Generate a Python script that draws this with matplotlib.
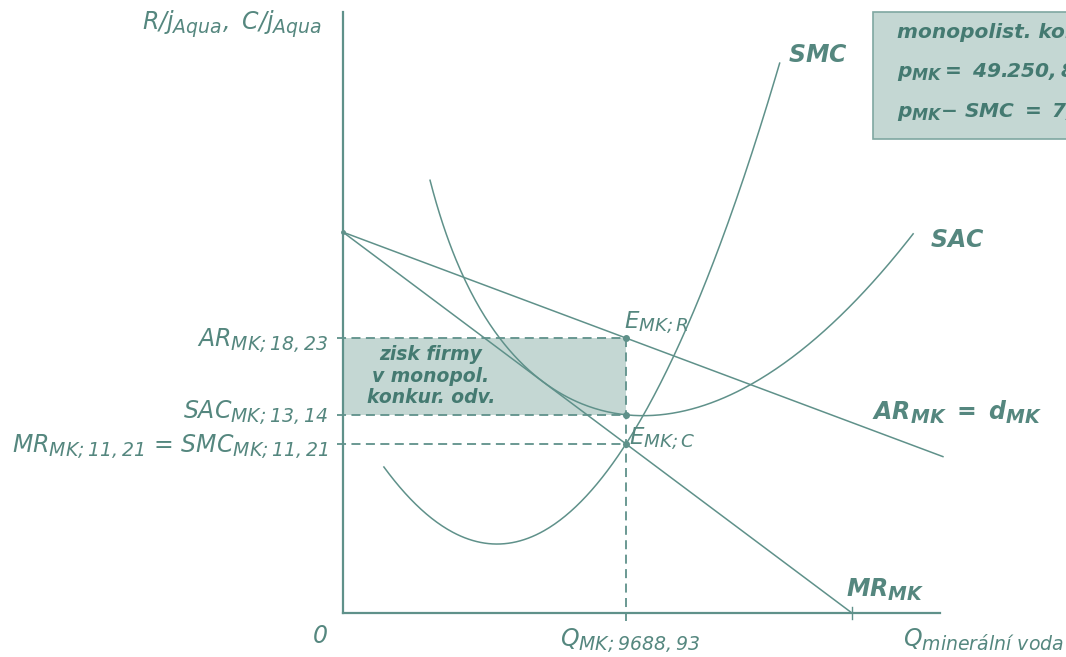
import matplotlib
matplotlib.use("Agg")
import numpy as np
import matplotlib.pyplot as plt
import matplotlib._mathtext as mathtext_internal

# --- data: monopolistic competition (mineral water firm) ---
Q_MK = 9688.93
AR_MK = 18.23
SAC_MK = 13.14
SMC_MK = 11.21
PROFIT_TXT = "49.250,80"
MARKUP_TXT = "7,02"

# demand AR = d: P = a - b*Q ; MR = a - 2b*Q
DEM_A = 25.25
DEM_B = (DEM_A - AR_MK) / Q_MK

# total cost TC = F + c1*Q - c2*Q^2 + c3*Q^3
TC_F = 56600.0
TC_C1 = 14.04
TC_C2 = 1.7955e-3
TC_C3 = 1.135e-7

# plotted ranges of Q
SMC_RANGE = (1400, 14950)
SAC_RANGE = (2980, 19520)
DEM_RANGE = (0, 20540)

# --- layout: pixel calibration of the drawing ---
W, H = 1066, 657
X0, Y0 = 343, 613          # origin in pixels
QPX, PPX = 34.237, 0.0663  # units per pixel

TEAL = "#5f918a"
TEXT = "#55877f"
DARK = "#447a71"
FILL = "#c4d7d3"

plt.rcParams["mathtext.fontset"] = "custom"
plt.rcParams["mathtext.it"] = "DejaVu Sans:italic"
plt.rcParams["mathtext.rm"] = "DejaVu Sans:italic"
plt.rcParams["mathtext.bf"] = "DejaVu Sans:italic:bold"
# subscripts in the reference are a bit larger than mathtext's default
mathtext_internal.SHRINK_FACTOR = 0.8


def px(x, y):
    return (x - X0) * QPX, (Y0 - y) * PPX


def smc(q):
    return TC_C1 - 2 * TC_C2 * q + 3 * TC_C3 * q ** 2


def sac(q):
    return TC_F / q + TC_C1 - TC_C2 * q + TC_C3 * q ** 2


fig = plt.figure(figsize=(W / 100, H / 100), dpi=100)
ax = fig.add_axes([0, 0, 1, 1])
ax.set_xlim(-X0 * QPX, (W - X0) * QPX)
ax.set_ylim(-(H - Y0) * PPX, Y0 * PPX)
ax.axis("off")

# axes
ax.plot([0, 0], [0, px(0, 12)[1]], color=TEAL, lw=1.6)
ax.plot([0, px(940, 0)[0]], [0, 0], color=TEAL, lw=1.6)

# profit rectangle
ax.fill_between([0, Q_MK], SAC_MK, AR_MK, color=FILL, lw=0)

# dashed guides
for v in (AR_MK, SAC_MK, SMC_MK):
    ax.plot([px(337, 0)[0], Q_MK], [v, v], color=TEAL, lw=1.3, ls=(0, (5, 3)))
ax.plot([Q_MK, Q_MK], [AR_MK, px(0, 621)[1]], color=TEAL, lw=1.3, ls=(0, (5, 3)))

# curves
q = np.linspace(*DEM_RANGE, 200)
ax.plot(q, DEM_A - DEM_B * q, color=TEAL, lw=1.1)
q_mr0 = DEM_A / (2 * DEM_B)
q = np.linspace(0, q_mr0, 200)
ax.plot(q, DEM_A - 2 * DEM_B * q, color=TEAL, lw=1.1)
ax.plot([q_mr0, q_mr0], [px(0, 607)[1], px(0, 619)[1]], color=TEAL, lw=1.0)

q = np.linspace(*SMC_RANGE, 300)
ax.plot(q, smc(q), color=TEAL, lw=1.1)
q = np.linspace(*SAC_RANGE, 300)
ax.plot(q, sac(q), color=TEAL, lw=1.1)

ax.scatter([Q_MK] * 3, [AR_MK, SAC_MK, SMC_MK], s=16, color=TEAL, zorder=5)
ax.plot(0, DEM_A, marker="o", ms=2.5, color=TEAL)

# labels
fs = 17
ax.text(*px(232, 24), r"$R/j_{Aqua},\ C/j_{Aqua}$", color=TEXT, fontsize=fs,
        ha="center", va="center")
ax.text(*px(320, 636), "0", color=TEXT, fontsize=fs, style="italic",
        ha="center", va="center")
ax.text(*px(630, 640), r"$Q_{MK;9688,93}$", color=TEXT, fontsize=fs,
        ha="center", va="center")
ax.text(*px(1064, 640), r"$Q_{minerální\ voda}$", color=TEXT, fontsize=fs,
        ha="right", va="center")

ax.text(*px(328, 340), r"$AR_{MK;18,23}$", color=TEXT, fontsize=fs,
        ha="right", va="center")
ax.text(*px(328, 412), r"$SAC_{MK;13,14}$", color=TEXT, fontsize=fs,
        ha="right", va="center")
ax.text(*px(328, 446), r"$MR_{MK;11,21}$ = $SMC_{MK;11,21}$", color=TEXT,
        fontsize=fs, ha="right", va="center")

ax.text(*px(624, 323), r"$E_{MK;R}$", color=TEXT, fontsize=16.5,
        ha="left", va="center")
ax.text(*px(629, 439), r"$E_{MK;C}$", color=TEXT, fontsize=16.5,
        ha="left", va="center")

ax.text(*px(788, 55), r"$\mathbf{SMC}$", color=TEXT, fontsize=fs,
        ha="left", va="center")
ax.text(*px(930, 240), r"$\mathbf{SAC}$", color=TEXT, fontsize=fs,
        ha="left", va="center")
ax.text(*px(872, 412), r"$\mathbf{AR}_{\mathbf{MK}}\ \mathbf{=}\ \mathbf{d}_{\mathbf{MK}}$",
        color=TEXT, fontsize=fs, ha="left", va="center")
ax.text(*px(846, 590), r"$\mathbf{MR}_{\mathbf{MK}}$", color=TEXT, fontsize=fs,
        ha="left", va="center")

ax.text(*px(431, 376), "zisk firmy\nv monopol.\nkonkur. odv.", color=DARK,
        fontsize=13.5, fontweight="bold", style="italic", ha="center",
        va="center", linespacing=1.15)

# info box (cut by right edge, as in the original slide)
bx0, by0 = px(873, 139)
bx1, by1 = px(1080, 12)
ax.add_patch(plt.Rectangle((bx0, by0), bx1 - bx0, by1 - by0, facecolor=FILL,
                           edgecolor="#7fa7a1", lw=1.2, clip_on=False))
ax.text(*px(897, 33), "monopolist. konkurence", color=DARK, fontsize=14.5,
        fontweight="bold", style="italic", ha="left", va="center")
ax.text(*px(897, 72), r"$\mathbf{p}_{\mathbf{MK}}\mathbf{=\ }$" + r"$\mathbf{" + PROFIT_TXT + "}$",
        color=DARK, fontsize=14.5, ha="left", va="center")
ax.text(*px(897, 112), r"$\mathbf{p}_{\mathbf{MK}}\mathbf{-\ SMC\ =\ " + MARKUP_TXT + "}$",
        color=DARK, fontsize=14.5, ha="left", va="center")

fig.savefig("out.png", dpi=100)
